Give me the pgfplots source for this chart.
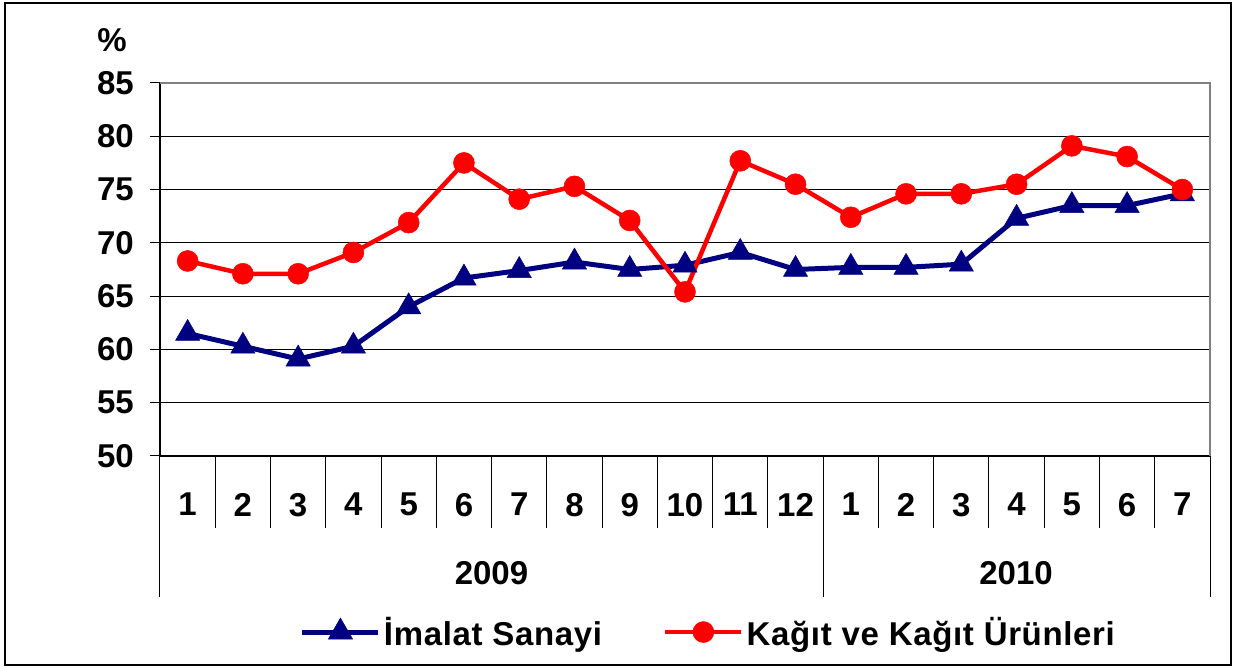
\documentclass[border=0pt]{standalone}
\usepackage{fontspec}
\setmainfont{Liberation Sans}
\newfontfamily\legfont[LetterSpace=2]{Liberation Sans}
\usepackage{pgfplots}
\pgfplotsset{compat=1.18}
\definecolor{navyb}{RGB}{0,0,128}
\definecolor{redc}{RGB}{255,0,0}
\newcommand{\bigfont}{\fontsize{33}{39}\selectfont\bfseries}
\begin{document}
\begin{tikzpicture}
\useasboundingbox (-160pt,-212pt) rectangle (1074pt,456pt);
\draw[line width=1.5pt] (-155pt,-209pt) rectangle (1071pt,453pt);
\begin{axis}[
  at={(0pt,0pt)}, anchor=south west,
  scale only axis, width=1050pt, height=373pt,
  xmin=-0.5, xmax=18.5, ymin=50, ymax=85,
  clip=false,
  axis x line*=bottom, axis y line*=left,
  axis line style={black, line width=2pt, -},
  xtick={0,...,18},
  xticklabels={1,2,3,4,5,6,7,8,9,10,11,12,1,2,3,4,5,6,7},
  xtick style={draw=none},
  ytick={50,55,...,85},
  ytick style={black, line width=1pt},
  tick align=outside, major tick length=10pt,
  ymajorgrids, grid style={black, line width=1pt},
  tick label style={font=\bigfont},
  /pgf/number format/assume math mode=true,
  yticklabel style={anchor=east, inner sep=0pt, xshift=-16pt},
  xticklabel style={anchor=north, inner sep=0pt, yshift=-27pt},
  legend columns=2,
  legend style={at={(axis description cs:0.1333,-0.472)}, anchor=west,
    draw=none, fill=none, inner sep=0pt, outer sep=0pt,
    font=\legfont\fontsize{33}{39}\selectfont\bfseries,
    nodes={inner sep=3pt},
    /tikz/every even column/.append style={column sep=58pt}},
  legend image code/.code={\draw[mark repeat=2,mark phase=2,#1] plot coordinates {(0pt,0pt) (38pt,0pt) (76pt,0pt)};},
]
\addplot[navyb, line width=5pt, mark=triangle*, mark size=14pt, mark options={solid, line width=0.5pt}] coordinates {
(0,61.5) (1,60.3) (2,59.1) (3,60.3) (4,64.0) (5,66.7) (6,67.4) (7,68.2) (8,67.5) (9,67.9)
(10,69.1) (11,67.5) (12,67.7) (13,67.7) (14,68.0) (15,72.3) (16,73.5) (17,73.5) (18,74.6)};
\addlegendentry{İmalat Sanayi}
\addplot[redc, line width=4.5pt, mark=*, mark size=10.5pt, mark options={solid, line width=0.5pt}] coordinates {
(0,68.3) (1,67.1) (2,67.1) (3,69.1) (4,71.9) (5,77.5) (6,74.1) (7,75.3) (8,72.1) (9,65.4)
(10,77.7) (11,75.5) (12,72.4) (13,74.6) (14,74.6) (15,75.5) (16,79.1) (17,78.1) (18,75.0)};
\addlegendentry{Kağıt ve Kağıt Ürünleri}
\end{axis}
\draw[gray, line width=2pt] (0pt,373pt) -- (1050pt,373pt) -- (1050pt,0pt);
\foreach \k in {1,...,11,13,14,15,16,17,18} {
  \draw[black, line width=1pt] ({\k*55.263pt},0pt) -- ++(0pt,-72pt);
}
\foreach \k in {0,12,19} {
  \draw[black, line width=1pt] ({\k*55.263pt},0pt) -- ++(0pt,-141pt);
}
\node[font=\bigfont] at (331.5pt,-117.5pt) {2009};
\node[font=\bigfont] at (856pt,-117.5pt) {2010};
\node[font=\bigfont] at (-48pt,416pt) {\%};
\end{tikzpicture}
\end{document}
